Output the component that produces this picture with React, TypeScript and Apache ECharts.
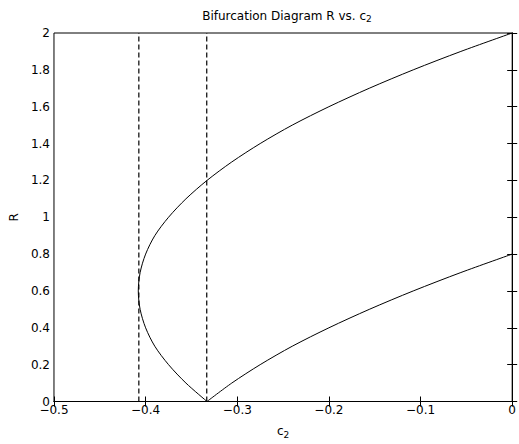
import React, { useEffect, useRef } from "react";
import * as echarts from "echarts";

// Bifurcation curve (c2, |R|), traced in order
const curveC2 = [
  0, -0.056, -0.108, -0.156, -0.2, -0.24, -0.275, -0.306, -0.333, -0.356, -0.375,
  -0.39, -0.4, -0.406, -0.408, -0.406, -0.4, -0.39, -0.375, -0.356, -0.333,
];
const curveR = [
  2, 1.9, 1.8, 1.7, 1.6, 1.5, 1.4, 1.3, 1.2, 1.1, 1.0,
  0.9, 0.8, 0.7, 0.6, 0.5, 0.4, 0.3, 0.2, 0.1, 0,
];
const lowerC2 = [-0.333, -0.306, -0.275, -0.24, -0.2, -0.156, -0.108, -0.056, 0];
const lowerR = [0, 0.1, 0.2, 0.3, 0.4, 0.5, 0.6, 0.7, 0.8];

// Vertical dashed markers at the bifurcation points
const markerC2 = [-0.4074, -0.3333];
const markerRange = [0, 2];

const xTicks = { min: -0.5, max: 0, interval: 0.1 };
const yTicks = { min: 0, max: 2, interval: 0.2 };

const FONT = "'DejaVu Sans', 'Liberation Sans', Arial, sans-serif";
const FS = 12;

const fmtX = (v: number) => {
  const s = Number(v.toFixed(1)).toString();
  return s.replace("-", "\u2212");
};
const fmtY = (v: number) => Number(v.toFixed(1)).toString();

export default function App() {
  const ref = useRef<HTMLDivElement>(null);
  useEffect(() => {
    if (!ref.current) return;
    const chart = echarts.init(ref.current, undefined, { renderer: "svg" });
    const upperData = curveC2.map((c, i) => [c, curveR[i]]);
    const lowerData = lowerC2.map((c, i) => [c, lowerR[i]]);
    const markerSeries = markerC2.map((c) => ({
      type: "line",
      data: markerRange.map((r) => [c, r]),
      showSymbol: false,
      symbol: "none",
      lineStyle: { color: "#000", width: 1.2, type: [5, 3] },
      silent: true,
    }));
    const commonTick = { inside: true, length: 5, lineStyle: { color: "#000", width: 1 } };
    const subStyle = { fontFamily: FONT, fontSize: 9, color: "#000", lineHeight: 15, padding: [7, 0, 0, 0] };
    chart.setOption({
      animation: false,
      backgroundColor: "#fff",
      title: {
        text: "Bifurcation Diagram R vs. c{sub|2}",
        left: 282,
        textAlign: "center",
        top: 3,
        textStyle: {
          fontFamily: FONT,
          fontSize: FS,
          fontWeight: "normal",
          color: "#000",
          lineHeight: 15,
          rich: { sub: subStyle },
        },
      },
      grid: { left: 53, right: 6, top: 33, bottom: 42, show: true, borderColor: "#000", borderWidth: 1 },
      xAxis: [
        {
          type: "value",
          ...xTicks,
          name: "c{sub|2}",
          nameLocation: "middle",
          nameGap: 22,
          nameTextStyle: {
            fontFamily: FONT,
            fontSize: FS,
            color: "#000",
            lineHeight: 15,
            rich: { sub: subStyle },
          },
          axisLine: { show: true, lineStyle: { color: "#000", width: 1 } },
          axisTick: commonTick,
          splitLine: { show: false },
          axisLabel: { formatter: fmtX, fontFamily: FONT, fontSize: FS, color: "#000", margin: 2 },
        },
        {
          type: "value",
          ...xTicks,
          position: "top",
          axisLine: { show: true, lineStyle: { color: "#000", width: 1 } },
          axisTick: commonTick,
          splitLine: { show: false },
          axisLabel: { show: false },
        },
      ],
      yAxis: [
        {
          type: "value",
          ...yTicks,
          name: "R",
          nameLocation: "middle",
          nameGap: 27,
          nameRotate: 90,
          nameTextStyle: { fontFamily: FONT, fontSize: FS, color: "#000" },
          axisLine: { show: true, lineStyle: { color: "#000", width: 1 } },
          axisTick: commonTick,
          splitLine: { show: false },
          axisLabel: { formatter: fmtY, fontFamily: FONT, fontSize: FS, color: "#000", margin: 4 },
        },
        {
          type: "value",
          ...yTicks,
          position: "right",
          axisLine: { show: true, lineStyle: { color: "#000", width: 1 } },
          axisTick: commonTick,
          splitLine: { show: false },
          axisLabel: { show: false },
        },
      ],
      series: [
        {
          type: "line",
          data: upperData,
          showSymbol: false,
          symbol: "none",
          smooth: 0.3,
          lineStyle: { color: "#000", width: 1 },
        },
        {
          type: "line",
          data: lowerData,
          showSymbol: false,
          symbol: "none",
          smooth: 0.3,
          lineStyle: { color: "#000", width: 1 },
        },
        ...markerSeries,
      ],
    });
    return () => chart.dispose();
  }, []);
  return <div ref={ref} style={{ width: 519, height: 444, position: "absolute", left: 0, top: 0 }} />;
}
